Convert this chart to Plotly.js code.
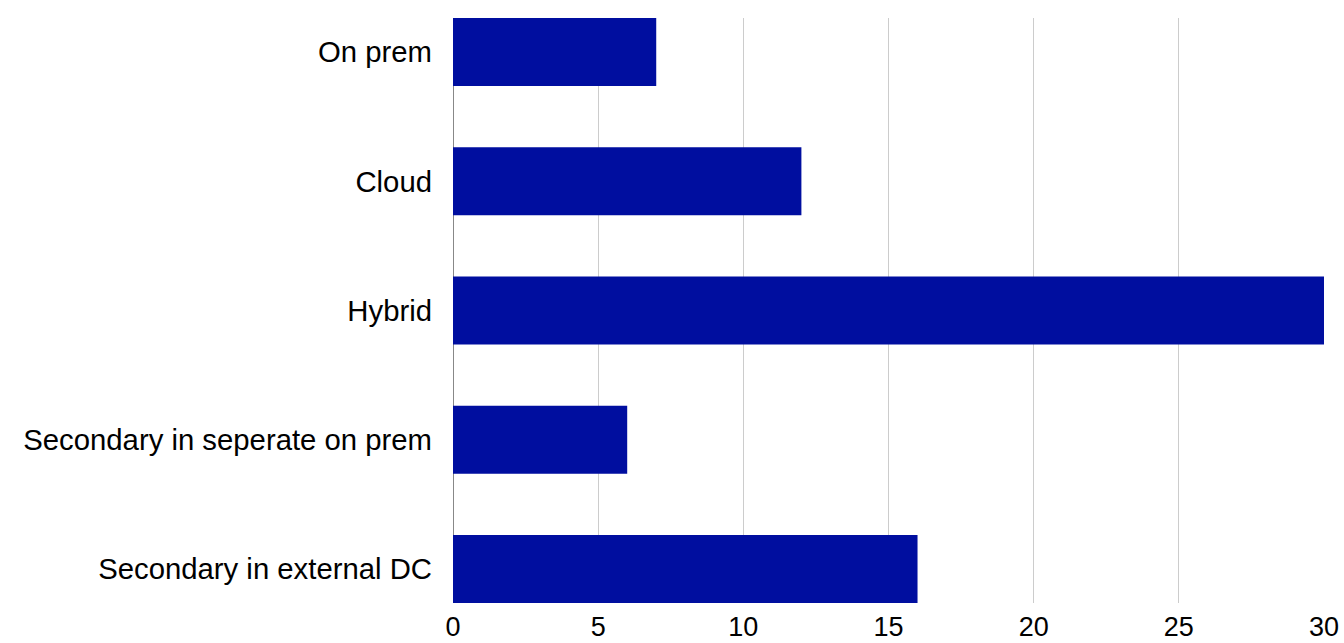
<!DOCTYPE html>
<html>
<head>
<meta charset="utf-8">
<script src="https://cdn.plot.ly/plotly-3.0.1.min.js"></script>
<style>html,body{margin:0;padding:0;background:#fff;}#chart{width:1344px;height:643px;}</style>
</head>
<body>
<div id="chart"></div>
<script>
const categories = ["On prem", "Cloud", "Hybrid", "Secondary in seperate on prem", "Secondary in external DC"];
const values = [7, 12, 30, 6, 16];
const xTickVals = [0, 5, 10, 15, 20, 25, 30];

Plotly.newPlot('chart', [{
  type: 'bar',
  orientation: 'h',
  y: categories,
  x: values,
  marker: {color: '#000E9F'},
  hoverinfo: 'x+y'
}], {
  width: 1344, height: 643,
  margin: {l: 453, r: 20, t: 18, b: 40, pad: 0},
  paper_bgcolor: '#fff', plot_bgcolor: '#fff',
  bargap: 0.474,
  showlegend: false,
  font: {family: 'Liberation Sans, Arial, sans-serif', color: '#000'},
  xaxis: {
    range: [0, 30],
    tickvals: xTickVals,
    ticktext: xTickVals.map(String),
    showgrid: true, gridcolor: '#cccccc', gridwidth: 1,
    zeroline: true, zerolinecolor: '#888888', zerolinewidth: 1,
    showline: false, ticks: '',
    tickfont: {size: 27, color: '#000'},
    ticklabelstandoff: 5
  },
  yaxis: {
    type: 'category',
    categoryorder: 'array', categoryarray: categories,
    range: [4.263, -0.263],
    showgrid: false, zeroline: false, showline: false, ticks: '',
    tickfont: {size: 29.3, color: '#000'},
    ticklabelstandoff: 20
  }
}, {displayModeBar: false, staticPlot: true});
</script>
</body>
</html>
